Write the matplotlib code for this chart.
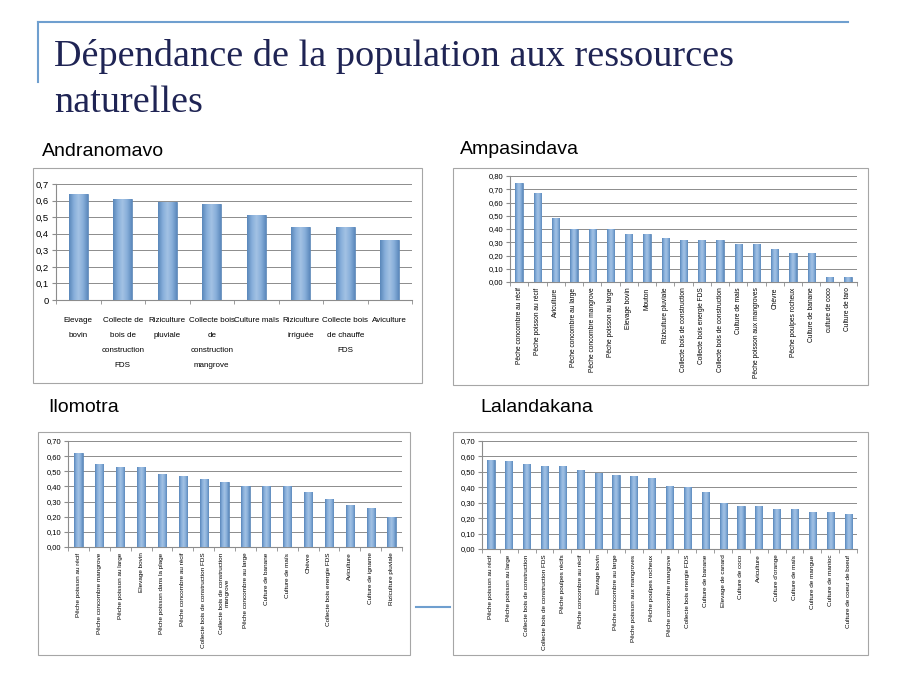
import matplotlib
matplotlib.use('Agg')
import matplotlib.pyplot as plt
from matplotlib.patches import Rectangle
from matplotlib.lines import Line2D
from matplotlib.colors import LinearSegmentedColormap
from matplotlib.ticker import FuncFormatter, FixedLocator
import numpy as np

# Andranomavo
andra_labels = ['Elevage\nbovin', 'Collecte de\nbois de\nconstruction\nFDS', 'Riziculture\npluviale',
                'Collecte bois\nde\nconstruction\nmangrove', 'Culture maïs', 'Riziculture\nirriguée',
                'Collecte bois\nde chauffe\nFDS', 'Aviculture']
andra_values = [0.64, 0.61, 0.59, 0.58, 0.51, 0.44, 0.44, 0.36]

# Ampasindava
ampa_labels = ['Pêche concombre au récif', 'Pêche poisson au récif', 'Aviculture', 'Pêche concombre au large',
               'Pêche concombre mangrove', 'Pêche poisson au large', 'Elevage bovin', 'Mouton',
               'Riziculture pluviale', 'Collecte bois de construction', 'Collecte bois energie FDS',
               'Collecte bois de construction', 'Culture de mais', 'Pêche poisson aux mangroves', 'Chèvre',
               'Pêche poulpes rocheux', 'Culture de banane', 'culture de coco', 'Culture de taro']
ampa_values = [0.75, 0.67, 0.48, 0.40, 0.40, 0.40, 0.36, 0.36, 0.33, 0.32, 0.32, 0.32, 0.29, 0.29,
               0.25, 0.22, 0.22, 0.04, 0.04]

# Ilomotra
ilo_labels = ['Pêche poisson au récif', 'Pêche concombre mangrove', 'Pêche poisson au large', 'Elevage bovin',
              'Pêche poisson dans la plage', 'Pêche concombre au récif', 'Collecte bois de construction FDS',
              'Collecte bois de construction\nmangrove', 'Pêche concombre au large', 'Culture de banane',
              'Culture de maïs', 'Chèvre', 'Collecte bois energie FDS', 'Aviculture', 'Culture de igname',
              'Riziculture pluviale']
ilo_values = [0.62, 0.55, 0.53, 0.53, 0.48, 0.47, 0.45, 0.43, 0.40, 0.40, 0.40, 0.36, 0.32, 0.28, 0.26, 0.20]

# Lalandakana
lala_labels = ['Pêche poisson au récif', 'Pêche poisson au large', 'Collecte bois de construction',
               'Collecte bois de construction FDS', 'Pêche poulpes récifs', 'Pêche concombre au récif',
               'Elevage bovin', 'Pêche concombre au large', 'Pêche poisson aux mangroves',
               'Pêche poulpes rocheux', 'Pêche concombre mangrove', 'Collecte bois energie FDS',
               'Culture de banane', 'Elevage de canard', 'Culture de coco', 'Aviculture', "Culture d'orange",
               'Culture de maïs', 'Culture de mangue', 'Culture de manioc', 'Culture de coeur de boeuf']
lala_values = [0.58, 0.57, 0.55, 0.54, 0.54, 0.51, 0.49, 0.48, 0.47, 0.46, 0.41, 0.40, 0.37, 0.30,
               0.28, 0.28, 0.26, 0.26, 0.24, 0.24, 0.23]

W, H = 900, 675
fig = plt.figure(figsize=(9, 6.75), dpi=100)
fig.patch.set_facecolor('white')

def fx(x):
    return x / W

def fy(y):
    return 1 - y / H

# decoration lines of the slide
fig.add_artist(Line2D([fx(38), fx(848)], [fy(22), fy(22)], color='#6F9FCF', lw=1.5))
fig.add_artist(Line2D([fx(38), fx(38)], [fy(22), fy(82)], color='#6F9FCF', lw=1.5))
fig.add_artist(Line2D([fx(416), fx(450)], [fy(607), fy(607)], color='#6F9FCF', lw=1.5))

fig.text(fx(54), fy(56), 'Dépendance de la population aux ressources', family='Liberation Serif',
         fontsize=27.5, color='#1F2454', va='center')
fig.text(fx(54), fy(103), 'naturelles', family='Liberation Serif',
         fontsize=27.5, color='#1F2454', va='center')

sans = ['Liberation Sans', 'DejaVu Sans']
cyl = LinearSegmentedColormap.from_list('cyl', ['#5A87BA', '#86AEDA', '#A3C2E4', '#88AFDA', '#5D8ABD'])
grad = np.linspace(0, 1, 64).reshape(1, -1)


def panel(frame, box, labels, values, ymax, ystep, dec, bw, title, tpos, rot, lfs, yfs):
    x0, y0, x1, y1 = frame
    fig.add_artist(Rectangle((fx(x0), fy(y1)), fx(x1 - x0), (y1 - y0) / H,
                             fill=False, edgecolor='#A6A6A6', lw=0.8))
    fig.text(fx(tpos[0]), fy(tpos[1]), title, family='Liberation Sans', fontsize=14, va='center')
    l, t, r, b = box
    ax = fig.add_axes([fx(l), fy(b), fx(r - l), (b - t) / H])
    n = len(values)
    x = np.arange(n)
    bars = ax.bar(x, values, width=bw, color='#7FA8D4', edgecolor='#5580B2', linewidth=0.5, zorder=3)
    for p in bars:
        im = ax.imshow(grad, cmap=cyl, aspect='auto', zorder=3.5,
                       extent=[p.get_x(), p.get_x() + p.get_width(), 0, p.get_height()])
        im.set_clip_path(p)
    ax.set_xlim(-0.5, n - 0.5)
    ax.set_ylim(0, ymax)
    ticks = np.arange(0, ymax + ystep / 2, ystep)
    ax.yaxis.set_major_locator(FixedLocator(ticks))

    def fmt(v, pos):
        if dec == 1 and abs(v) < 1e-9:
            return '0'
        return (('%.' + str(dec) + 'f') % v).replace('.', ',')
    ax.yaxis.set_major_formatter(FuncFormatter(fmt))
    ax.grid(axis='y', color='#8C8C8C', lw=0.7, zorder=0)
    for s in ['top', 'right']:
        ax.spines[s].set_visible(False)
    ax.spines['left'].set_color('#8C8C8C')
    ax.spines['bottom'].set_color('#8C8C8C')
    ax.set_xticks(x)
    if rot:
        ax.set_xticklabels(labels, rotation=90, fontsize=lfs, family=sans, va='top', ha='center')
        ax.tick_params(axis='x', which='major', length=0, pad=4)
    else:
        ax.set_xticklabels(labels, fontsize=lfs, family=sans, linespacing=2.6)
        ax.tick_params(axis='x', which='major', length=0, pad=12)
    ax.set_xticks(np.arange(-0.5, n, 1), minor=True)
    ax.tick_params(axis='x', which='minor', length=3, color='#8C8C8C')
    ax.tick_params(axis='y', length=3, color='#8C8C8C', labelsize=yfs, pad=2)
    for tl in ax.get_yticklabels():
        tl.set_family(sans)
    return ax


panel((33, 168, 422, 383), (56, 184, 412, 300), andra_labels, andra_values, 0.7, 0.1, 1, 0.42,
      'Andranomavo', (42, 151), False, 5.8, 6.8)
panel((453, 168, 868, 385), (510, 176, 857, 282), ampa_labels, ampa_values, 0.8, 0.1, 2, 0.4,
      'Ampasindava', (460, 150), True, 4.8, 5.5)
panel((38, 432, 410, 655), (68, 441, 402, 547), ilo_labels, ilo_values, 0.7, 0.1, 2, 0.4,
      'Ilomotra', (48, 407), True, 4.6, 5.5)
panel((453, 432, 868, 655), (482, 441, 857, 549), lala_labels, lala_values, 0.7, 0.1, 2, 0.4,
      'Lalandakana', (480, 407), True, 4.6, 5.5)

fig.savefig('out.png', dpi=100)
